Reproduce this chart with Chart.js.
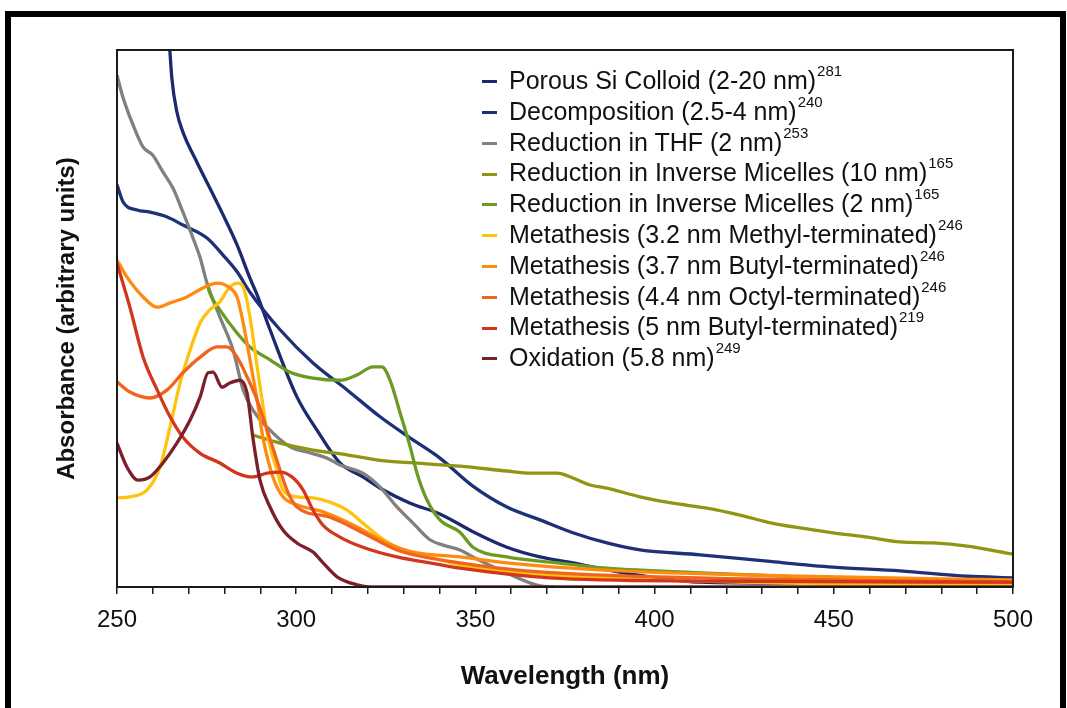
<!DOCTYPE html>
<html>
<head>
<meta charset="utf-8">
<script src="https://cdn.jsdelivr.net/npm/chart.js@4/dist/chart.umd.min.js"></script>
<style>
  html, body { margin: 0; padding: 0; background: #fff; }
  #wrap { position: relative; width: 1067px; height: 708px; overflow: hidden; background: #fff; }
  #frame { position: absolute; left: 5px; top: 11px; width: 1049px; height: 720px;
           border: 6px solid #000; border-bottom: none; pointer-events: none; }
  canvas { position: absolute; left: 0; top: 0; }
  #legend { position: absolute; left: 482px; top: 60px; font-family: 'Liberation Sans', Arial, sans-serif;
            font-size: 25px; color: #111; }
  .row { height: 30.8px; line-height: 30.8px; white-space: nowrap; }
  .dash { display: inline-block; width: 15px; height: 3px; vertical-align: middle; margin-right: 12px;
          position: relative; top: -1px; }
  .row sup { font-size: 15px; position: relative; top: -4px; margin-left: 1px; }
</style>
</head>
<body>
<div id="wrap">
  <canvas id="c" width="1067" height="708"></canvas>
  <div id="legend"></div>
  <div id="frame"></div>
</div>
<script>
// ---- data (wavelength in nm, absorbance in arbitrary units) ----
const seriesLabels = [
  'Porous Si Colloid (2-20 nm)',
  'Decomposition (2.5-4 nm)',
  'Reduction in THF (2 nm)',
  'Reduction in Inverse Micelles (10 nm)',
  'Reduction in Inverse Micelles (2 nm)',
  'Metathesis (3.2 nm Methyl-terminated)',
  'Metathesis (3.7 nm Butyl-terminated)',
  'Metathesis (4.4 nm Octyl-terminated)',
  'Metathesis (5 nm Butyl-terminated)',
  'Oxidation (5.8 nm)'
];
const seriesRefs = ['281', '240', '253', '165', '165', '246', '246', '246', '219', '249'];
const seriesColors = ['#1b2a6e', '#1d3078', '#808080', '#8e9612', '#6b9b22',
                      '#ffc20e', '#ff8a10', '#f0641e', '#d2371e', '#7b1f2a'];

const porousWl  = [264, 265.3, 266.7, 268.4, 272.3, 275.9, 279.6, 283.5, 287.1, 289.1, 292.7, 300.2, 305.8, 312.2, 318.6, 324.2, 331.8, 340.1, 349.3, 358.8, 368, 377.2, 386.7, 398.7, 412.7, 440.6, 500];
const porousAbs = [108, 94.8, 88.5, 84.7, 79.1, 74.3, 69.3, 63.7, 57.5, 54.4, 47.9, 35.4, 29.2, 23.1, 20.5, 18.1, 15.6, 13.6, 10.3, 7.4, 5.6, 4.5, 3.2, 1.9, 0.9, 0.7, 0.6];

const decompWl  = [250, 251.7, 255.6, 259.2, 264, 268.4, 275.1, 279.6, 283.5, 287.1, 295.5, 304.7, 314.2, 323.4, 332.6, 340.1, 349.3, 358.8, 368, 377.2, 386.7, 395.9, 412.7, 431.4, 449.8, 468.5, 487.2, 500];
const decompAbs = [74.9, 71.7, 70.2, 69.8, 68.9, 67.4, 65.0, 61.8, 58.7, 54.9, 47.9, 41.7, 36.7, 31.7, 27.4, 24.0, 18.8, 14.9, 12.5, 10.1, 8.2, 6.9, 6.0, 4.8, 3.7, 3.0, 2.0, 1.7];

const thfWl  = [250, 251.7, 254.5, 257.3, 260, 262.8, 265.6, 268.4, 271.2, 273.2, 275.1, 278.7, 282.4, 285.2, 287.9, 292.7, 298.3, 303.8, 308.6, 312.2, 318.6, 323.4, 328.1, 332.6, 337.3, 341, 345.7, 349.3, 358.8, 368, 372];
const thfAbs = [95.3, 91.1, 86.0, 81.9, 80.4, 77.3, 74.3, 69.8, 65.0, 61.3, 56.6, 50.3, 44.1, 36.7, 33.0, 29.2, 26.1, 25.0, 24.0, 22.7, 21.2, 18.6, 14.9, 11.9, 8.8, 7.8, 6.9, 5.6, 2.6, 0.2, 0];

const mic10Wl  = [287.9, 295.5, 304.7, 314.2, 323.4, 332.6, 345.7, 358.8, 365.2, 372.8, 377.2, 382, 386.7, 395.9, 405.1, 414.6, 423.8, 431.4, 440.6, 449.8, 459.3, 468.5, 477.7, 487.2, 500];
const mic10Abs = [28.3, 26.8, 25.5, 24.6, 23.6, 23.1, 22.5, 21.6, 21.2, 21.2, 20.3, 19.0, 18.4, 16.8, 15.6, 14.7, 13.4, 12.1, 11.0, 10.1, 9.3, 8.4, 8.2, 7.6, 6.1];

const mic2Wl  = [275.2, 275.9, 278.7, 283.5, 287.1, 292.7, 298.3, 304.7, 312.2, 317, 321.4, 323.9, 326.2, 329, 331.8, 333.7, 336.5, 340.1, 345.7, 349.3, 358.8, 372.8, 386.7, 414.6, 440.6, 468.5, 500];
const mic2Abs = [56.5, 54.7, 51.6, 47.3, 44.7, 42.3, 40.0, 38.9, 38.5, 39.5, 41.0, 41.0, 38.5, 32.4, 26.1, 21.2, 16.2, 12.5, 10.2, 7.4, 5.6, 4.5, 3.5, 2.6, 1.9, 1.3, 0.9];

const methylWl  = [250, 253.6, 258.4, 262, 264.8, 267.6, 270.4, 273.2, 275.9, 278.7, 281.5, 283.8, 285.2, 287.1, 289.1, 290.5, 292.1, 294.6, 296.3, 300.2, 304.7, 309.4, 314.2, 318.6, 323.4, 328.1, 337.3, 345.7, 358.8, 384.8, 440.6, 500];
const methylAbs = [16.6, 16.8, 18.1, 22.3, 29.8, 38.0, 44.1, 49.2, 51.6, 53.1, 55.9, 56.6, 55.9, 50.3, 41.0, 34.8, 27.9, 21.8, 18.1, 16.8, 16.6, 15.8, 14.3, 11.9, 9.3, 7.4, 5.6, 4.1, 2.8, 1.7, 0.7, 0.4];

const butyl37Wl  = [250, 252.8, 257.3, 261.2, 264.8, 269.5, 274, 277.9, 281.5, 283.5, 285.2, 287.1, 289.1, 290.7, 293.5, 296.3, 300.2, 307.5, 317, 325.3, 332.6, 345.7, 358.8, 384.8, 440.6, 500];
const butyl37Abs = [60.9, 57.7, 54.0, 52.1, 52.9, 54.0, 55.7, 56.6, 55.7, 54.0, 49.2, 42.3, 34.8, 27.9, 20.5, 16.8, 15.3, 14.0, 11.2, 8.2, 6.5, 5.6, 4.5, 3.2, 2.0, 1.3];

const octylWl  = [250, 253.6, 259.2, 264, 268.4, 273.2, 277.9, 280.7, 283.5, 286.3, 289.1, 291.9, 294.6, 297.4, 300.2, 309.4, 318.6, 328.1, 345.7, 368, 412.7, 500];
const octylAbs = [38.2, 36.3, 35.2, 36.7, 39.9, 42.8, 44.7, 44.7, 42.8, 39.1, 34.8, 29.2, 23.6, 18.1, 14.9, 13.0, 10.1, 6.9, 4.5, 2.8, 1.7, 0.9];

const butyl5Wl  = [250, 253.6, 257.3, 261.2, 264.8, 268.4, 273.2, 278.7, 283.5, 287.9, 291.9, 295.5, 298.8, 301.9, 304.7, 307.5, 312.2, 318.6, 328.1, 337.3, 345.7, 370.8, 412.7, 500];
const butyl5Abs = [60.3, 52.1, 42.8, 36.7, 31.7, 27.9, 24.9, 23.1, 21.2, 20.5, 21.2, 21.4, 20.5, 18.1, 14.3, 11.5, 9.3, 7.4, 5.6, 4.5, 3.5, 1.7, 1.1, 0.9];

const oxidWl  = [250, 252.8, 255.9, 259.2, 262.8, 266.7, 270.4, 273.2, 275.4, 276.8, 279.3, 281.5, 284.3, 286.3, 287.9, 289.9, 292.7, 296.3, 300.2, 304.7, 307.5, 311.4, 317, 320.6, 500];
const oxidAbs = [26.8, 22.3, 19.9, 20.5, 23.1, 26.8, 31.1, 35.4, 39.9, 40.0, 37.2, 38.0, 38.5, 36.1, 27.9, 19.9, 14.9, 10.6, 8.2, 6.5, 4.5, 1.9, 0.4, 0, 0];

const seriesWl  = [porousWl, decompWl, thfWl, mic10Wl, mic2Wl, methylWl, butyl37Wl, octylWl, butyl5Wl, oxidWl];
const seriesAbs = [porousAbs, decompAbs, thfAbs, mic10Abs, mic2Abs, methylAbs, butyl37Abs, octylAbs, butyl5Abs, oxidAbs];

const xTickLabels = [250, 300, 350, 400, 450, 500];

// ---- build ----
const FONT = "'Liberation Sans', Arial, Helvetica, sans-serif";
Chart.defaults.font.family = FONT;
Chart.defaults.color = '#111';

const datasets = seriesLabels.map((lab, i) => ({
  label: lab,
  data: seriesWl[i].map((w, k) => ({ x: w, y: seriesAbs[i][k] })),
  borderColor: seriesColors[i],
  backgroundColor: seriesColors[i],
  borderWidth: 3.3,
  pointRadius: 0,
  fill: false,
  cubicInterpolationMode: 'monotone',
  order: seriesLabels.length - i
}));

const boxPlugin = {
  id: 'plotBox',
  afterDraw(chart) {
    const a = chart.chartArea, ctx = chart.ctx;
    ctx.save();
    ctx.strokeStyle = '#1a1a1a';
    ctx.lineWidth = 2;
    ctx.strokeRect(a.left, a.top, a.right - a.left, a.bottom - a.top);
    ctx.restore();
  }
};

new Chart(document.getElementById('c'), {
  type: 'line',
  data: { datasets },
  options: {
    responsive: false,
    animation: false,
    layout: { padding: { top: 50, right: 54, left: 0, bottom: 0 } },
    plugins: { legend: { display: false }, tooltip: { enabled: false } },
    scales: {
      x: {
        type: 'linear', min: 250, max: 500,
        afterFit: s => { s.height = 121; },
        border: { display: true, color: '#1a1a1a', width: 2 },
        grid: { display: true, drawOnChartArea: false, drawTicks: true, tickLength: 7, color: '#1a1a1a', lineWidth: 1.5 },
        ticks: {
          stepSize: 10, padding: 12, maxRotation: 0, autoSkip: false,
          font: { size: 24 }, color: '#111',
          callback: v => xTickLabels.includes(v) ? String(v) : ''
        },
        title: { display: true, text: 'Wavelength (nm)', font: { size: 26, weight: 'bold' }, color: '#111',
                 padding: { top: 0, bottom: 16 } }
      },
      y: {
        min: 0, max: 100,
        afterFit: s => { s.width = 117; },
        border: { display: true, color: '#1a1a1a', width: 2 },
        grid: { display: false },
        ticks: { display: false },
        title: { display: true, text: 'Absorbance (arbitrary units)', font: { size: 24, weight: 'bold' }, color: '#111',
                 padding: { top: 53, bottom: 0 } }
      }
    }
  },
  plugins: [boxPlugin]
});

// ---- legend (HTML so that references can be superscripts) ----
const leg = document.getElementById('legend');
seriesLabels.forEach((lab, i) => {
  const row = document.createElement('div');
  row.className = 'row';
  const d = document.createElement('span');
  d.className = 'dash';
  d.style.background = seriesColors[i];
  row.appendChild(d);
  row.appendChild(document.createTextNode(lab));
  const s = document.createElement('sup');
  s.textContent = seriesRefs[i];
  row.appendChild(s);
  leg.appendChild(row);
});
</script>
</body>
</html>
